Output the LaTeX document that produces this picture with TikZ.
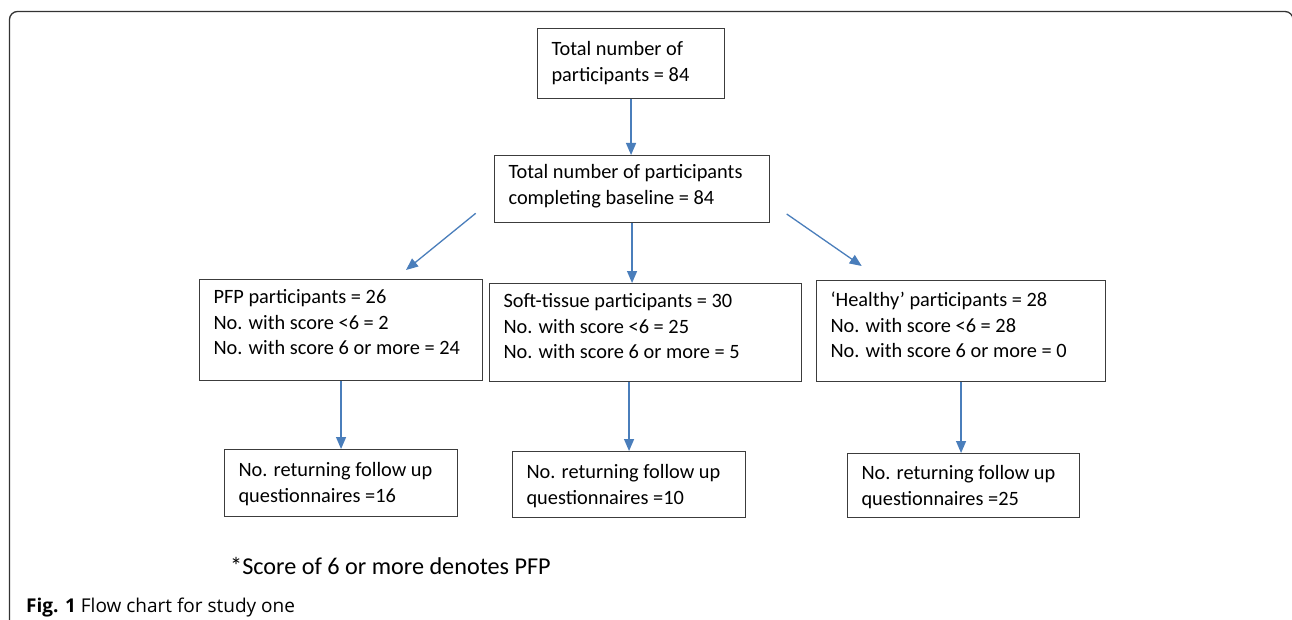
\documentclass[tikz,border=0pt]{standalone}
\usepackage{fontspec}
\setmainfont{Carlito}
\newfontfamily\capfont{Open Sans}
\usetikzlibrary{arrows.meta}
\definecolor{arrblue}{HTML}{4A7EBB}
\definecolor{boxgray}{HTML}{3C3C3C}
\definecolor{framegray}{HTML}{333333}
\newcommand{\bxt}[4]{\parbox[c][#2][t]{#1}{\raggedright\leftskip=14pt\relax\rule{0pt}{#3}#4}}
\tikzset{
  fcbox/.style={draw=boxgray, line width=1.1pt, inner sep=0pt, anchor=north west,
    font=\fontsize{20.35}{25.5}\selectfont},
  arr/.style={draw=arrblue, line width=1.3pt, -{Triangle[length=12pt,width=10pt]}},
  plain/.style={inner sep=0pt, anchor=base west}
}
\begin{document}
\begin{tikzpicture}[x=1pt,y=-1pt]
\useasboundingbox (0,0) rectangle (1292,620);
\fill[white] (0,0) rectangle (1292,620);
\draw[framegray, line width=1.3pt, rounded corners=8pt] (9.5,640) -- (9.5,11.5) -- (1293,11.5) -- (1293,640);

\node[fcbox] (top) at (537,28) {\bxt{187pt}{70pt}{27pt}{Total number of\\participants = 84}};
\node[fcbox] (base) at (494,155) {\bxt{275pt}{67pt}{23pt}{Total number of participants\\completing baseline = 84}};
\node[fcbox] (pfp) at (199,279) {\bxt{283pt}{101pt}{24pt}{PFP participants = 26\\No. with score <6 = 2\\No. with score 6 or more = 24}};
\node[fcbox] (soft) at (489,283) {\bxt{312pt}{98pt}{24pt}{Soft-tissue participants = 30\\No. with score <6 = 25\\No. with score 6 or more = 5}};
\node[fcbox] (healthy) at (816,280) {\bxt{289pt}{101pt}{26pt}{‘Healthy’ participants = 28\\No. with score <6 = 28\\No. with score 6 or more = 0}};
\node[fcbox] (fpfp) at (224,449) {\bxt{233pt}{67pt}{27pt}{No. returning follow up\\questionnaires =16}};
\node[fcbox] (fsoft) at (512,451) {\bxt{233pt}{66pt}{27pt}{No. returning follow up\\questionnaires =10}};
\node[fcbox] (fhealthy) at (847,453) {\bxt{232pt}{64pt}{26pt}{No. returning follow up\\questionnaires =25}};

\coordinate (dls) at (475.7,213.3);
\coordinate (dle) at (406,270);
\coordinate (drs) at (786.7,214);
\coordinate (dre) at (861.7,266);

\draw[arr] (top.south) -- (top.south |- base.north);
\draw[arr] (dls) -- (dle);
\draw[arr] (drs) -- (dre);
\draw[arr] (base.south) -- (base.south |- soft.north);
\draw[arr] (pfp.south) -- (fpfp.north);
\draw[arr] (fsoft.north |- soft.south) -- (fsoft.north);
\draw[arr] (healthy.south) -- (healthy.south |- fhealthy.north);

\node[plain, font=\fontsize{24.2}{28}\selectfont] (note) at (230,574) {*Score of 6 or more denotes PFP};
\node[plain, font=\capfont\fontsize{19}{22}\selectfont] (cap) at (26,612.5) {\textbf{Fig. 1} Flow chart for study one};
\end{tikzpicture}
\end{document}
